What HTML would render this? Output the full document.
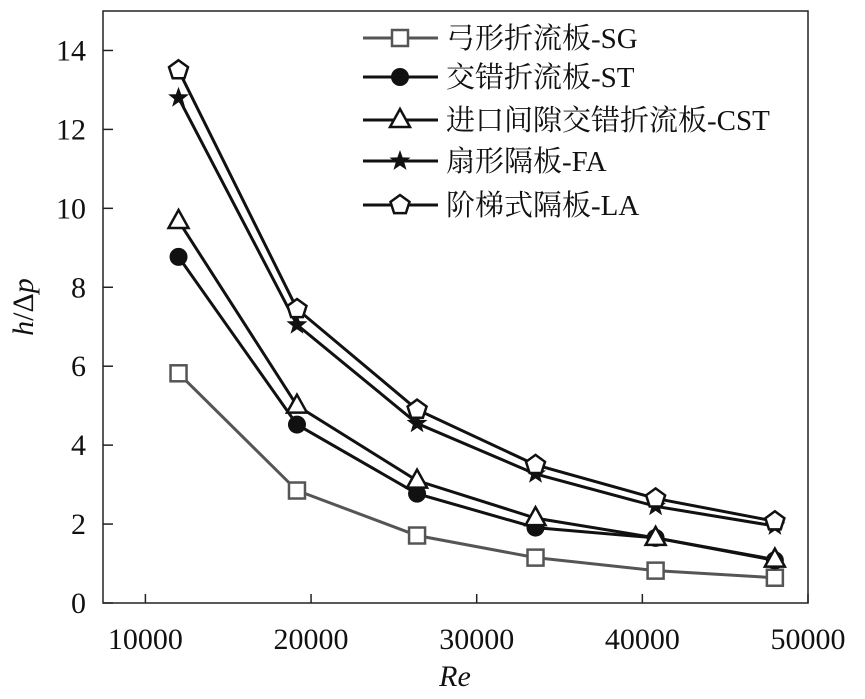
<!DOCTYPE html>
<html><head><meta charset="utf-8"><style>
html,body{margin:0;padding:0;background:#fff;}
svg{display:block;font-family:"Liberation Serif","Noto Serif CJK SC",serif;}
</style></head><body>
<svg id="chart" width="865" height="699" viewBox="0 0 865 699"></svg>
<script>
const reValues=[12000,19150,26400,33550,40800,48000];
const sgValues=[5.82,2.85,1.71,1.15,0.82,0.64];
const stValues=[8.77,4.52,2.77,1.91,1.65,1.08];
const cstValues=[9.68,5.0,3.1,2.15,1.65,1.1];
const faValues=[12.8,7.05,4.55,3.27,2.45,1.95];
const laValues=[13.5,7.45,4.9,3.5,2.65,2.07];
const xTicks=[10000,20000,30000,40000,50000];
const yTicks=[0,2,4,6,8,10,12,14];
const seriesNames=["弓形折流板-SG","交错折流板-ST","进口间隙交错折流板-CST","扇形隔板-FA","阶梯式隔板-LA"];

const NS="http://www.w3.org/2000/svg";
const svg=document.getElementById('chart');
const L=103,R=808,T=11,B=603;
const xMin=7440,xMax=50000,yMin=0,yMax=15;
const X=v=>L+(v-xMin)/(xMax-xMin)*(R-L);
const Y=v=>B-(v-yMin)/(yMax-yMin)*(B-T);
function mk(tag,attrs,parent){const e=document.createElementNS(NS,tag);for(const k in attrs)e.setAttribute(k,attrs[k]);(parent||svg).appendChild(e);return e;}

const frame=mk('rect',{x:L,y:T,width:R-L,height:B-T,fill:'none',stroke:'#222','stroke-width':1.5});



xTicks.forEach(t=>{
  const tk=mk('line',{x1:X(t),x2:X(t),y1:B,y2:B-9,stroke:'#222','stroke-width':1.5});
  
  
  const lb=mk('text',{x:X(t),y:B+46,'text-anchor':'middle','font-size':30,fill:'#111'});
  lb.textContent=t;
  
  
});
yTicks.forEach(t=>{
  const tk=mk('line',{x1:L,x2:L+10,y1:Y(t),y2:Y(t),stroke:'#222','stroke-width':1.5});
  
  
  const lb=mk('text',{x:L-17,y:Y(t)+10,'text-anchor':'end','font-size':30,fill:'#111'});
  lb.textContent=t;
  
  
});
const xt=mk('text',{x:455,y:686,'text-anchor':'middle','font-size':30,'font-style':'italic',fill:'#111'});
xt.textContent='Re';


const yt=mk('text',{transform:'translate(33,307) rotate(-90)','text-anchor':'middle','font-size':30,fill:'#111'});
yt.innerHTML='<tspan font-style="italic">h</tspan>/Δ<tspan font-style="italic">p</tspan>';



function marker(type,x,y,color,g){
  const sw=2.5;
  if(type==='square')return mk('rect',{x:x-8,y:y-8,width:16,height:16,fill:'#fff',stroke:color,'stroke-width':sw},g);
  if(type==='circle')return mk('circle',{cx:x,cy:y,r:9,fill:'#111'},g);
  if(type==='triangle')return mk('polygon',{points:`${x},${y-11} ${x-10},${y+7} ${x+10},${y+7}`,fill:'#fff',stroke:color,'stroke-width':sw},g);
  if(type==='star'){let p=[];for(let i=0;i<10;i++){const r=i%2?4.5:11;const a=-Math.PI/2+i*Math.PI/5;p.push((x+r*Math.cos(a)).toFixed(1)+','+(y+r*Math.sin(a)).toFixed(1));}return mk('polygon',{points:p.join(' '),fill:'#111'},g);}
  if(type==='pentagon'){let p=[];for(let i=0;i<5;i++){const a=-Math.PI/2+i*2*Math.PI/5;p.push((x+10*Math.cos(a)).toFixed(1)+','+(y+10*Math.sin(a)).toFixed(1));}return mk('polygon',{points:p.join(' '),fill:'#fff',stroke:color,'stroke-width':sw},g);}
}
const series=[
 {vals:sgValues,type:'square',color:'#555',name:'series-sg'},
 {vals:stValues,type:'circle',color:'#111',name:'series-st'},
 {vals:cstValues,type:'triangle',color:'#111',name:'series-cst'},
 {vals:faValues,type:'star',color:'#111',name:'series-fa'},
 {vals:laValues,type:'pentagon',color:'#111',name:'series-la'}
];
series.forEach(s=>{
  const g=mk('g',{});
  
  
  const ln=mk('polyline',{points:s.vals.map((v,i)=>X(reValues[i])+','+Y(v)).join(' '),fill:'none',stroke:s.color,'stroke-width':3},g);
  
  
  s.vals.forEach((v,i)=>{
    const m=marker(s.type,X(reValues[i]),Y(v),s.color,g);
    
    
  });
});
const legendY=[38,77,120,161,205];
const lg=mk('g',{});


series.forEach((s,i)=>{
  const y=legendY[i];
  const e=mk('g',{},lg);
  
  
  mk('line',{x1:363,x2:438,y1:y,y2:y,stroke:s.color,'stroke-width':3},e);
  marker(s.type,400,y,s.color,e);
  const t=mk('text',{x:446,y:y+10,'font-size':29,fill:'#111'},e);
  t.textContent=seriesNames[i];
});
</script>
</body></html>
